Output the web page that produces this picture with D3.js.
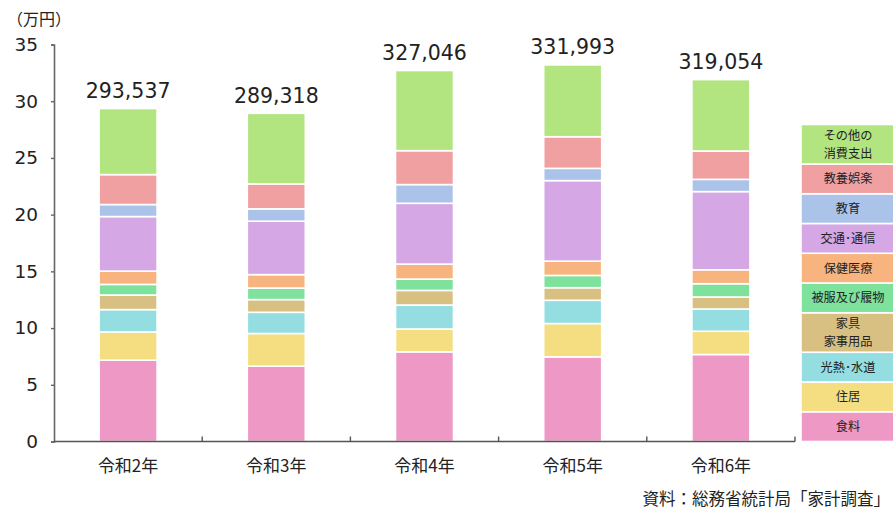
<!DOCTYPE html>
<html lang="ja">
<head>
<meta charset="utf-8">
<script src="https://cdn.jsdelivr.net/npm/d3@7"></script>
<style>
  html, body { margin: 0; padding: 0; background: #fff; }
  svg { display: block; }
</style>
</head>
<body>
<svg id="chart" width="893" height="511"></svg>
<script>
// 年次（カテゴリ）
const years = ["令和2年", "令和3年", "令和4年", "令和5年", "令和6年"];

// 1か月あたりの消費支出総額（円）
const totals = [293537, 289318, 327046, 331993, 319054];

// 費目（下から積み上げる順）
const items = ["食料", "住居", "光熱・水道", "家具・家事用品", "被服及び履物",
               "保健医療", "交通・通信", "教育", "教養娯楽", "その他の消費支出"];

// 凡例の表示文字（行ごと）
const legendLabels = [["食料"], ["住居"], ["光熱･水道"], ["家具", "家事用品"], ["被服及び履物"],
                      ["保健医療"], ["交通･通信"], ["教育"], ["教養娯楽"], ["その他の", "消費支出"]];

// 費目別の支出（万円）：年次順
const food      = [7.17, 6.64, 7.90, 7.46, 7.67];
const housing   = [2.49, 2.88, 2.02, 2.94, 2.05];
const utilities = [1.97, 1.87, 2.11, 2.05, 1.96];
const furniture = [1.28, 1.12, 1.29, 1.11, 1.06];
const clothing  = [0.94, 1.02, 1.00, 1.08, 1.17];
const medical   = [1.17, 1.18, 1.32, 1.26, 1.23];
const transport = [4.81, 4.71, 5.36, 7.10, 6.89];
const education = [1.06, 1.09, 1.65, 1.08, 1.08];
const culture   = [2.64, 2.20, 2.99, 2.79, 2.50];
const other     = [5.8237, 6.2218, 7.0646, 6.3293, 6.2954];

// y軸目盛
const yTicks = [0, 5, 10, 15, 20, 25, 30, 35];

const colors = ["#ee99c5", "#f5de82", "#94dee2", "#d8c083", "#7ee29c",
                "#f8b47e", "#d5a7e4", "#abc3e8", "#f0a0a0", "#b2e480"];

const series = [food, housing, utilities, furniture, clothing,
                medical, transport, education, culture, other];

// 積み上げ用の表
const table = years.map((yr, i) => {
  const row = { year: yr };
  items.forEach((k, j) => { row[k] = series[j][i]; });
  return row;
});
const stacked = d3.stack().keys(items)(table);

const svg = d3.select("#chart");
const jpFont = "'Noto Sans CJK JP', 'Noto Sans', sans-serif";
const numFont = "'DejaVu Sans', Verdana, sans-serif";
const ink = "#222";

const plotL = 54, plotR = 795, plotBase = 441.5, plotTop = 44.5;

const x = d3.scaleBand()
  .domain(years)
  .range([plotL, plotR])
  .paddingInner(0.6086)
  .paddingOuter(0.3043);

const y = d3.scaleLinear().domain([0, 35]).range([plotBase, plotTop]);

// 単位
svg.append("text")
  .attr("x", 7).attr("y", 25)
  .attr("font-family", jpFont).attr("font-size", 16).attr("fill", ink)
  .text("（万円）");

// y軸
const yAxis = svg.append("g")
  .attr("transform", `translate(${plotL},0)`)
  .call(d3.axisLeft(y).tickValues(yTicks).tickSize(3).tickPadding(13).tickFormat(d3.format("d")));
yAxis.select(".domain").attr("stroke", "#666").attr("stroke-width", 1.6);
yAxis.selectAll(".tick line").attr("stroke", "#666").attr("stroke-width", 1.4);
yAxis.selectAll(".tick text")
  .attr("font-family", numFont).attr("font-size", 18.5).attr("fill", ink);

// 積み上げ棒
svg.append("g")
  .selectAll("g")
  .data(stacked)
  .join("g")
  .attr("fill", (d, i) => colors[i])
  .selectAll("rect")
  .data(d => d)
  .join("rect")
  .attr("x", d => x(d.data.year))
  .attr("width", x.bandwidth())
  .attr("y", d => y(d[1]))
  .attr("height", d => y(d[0]) - y(d[1]))
  .attr("stroke", "#fff")
  .attr("stroke-width", 1.6);

// x軸
const step = x.step();
const xAxis = svg.append("g");
xAxis.append("line")
  .attr("x1", plotL).attr("x2", plotR)
  .attr("y1", plotBase).attr("y2", plotBase)
  .attr("stroke", "#555").attr("stroke-width", 1.6);
xAxis.selectAll("line.sep")
  .data(d3.range(1, years.length + 1))
  .join("line")
  .attr("class", "sep")
  .attr("x1", i => plotL + i * step).attr("x2", i => plotL + i * step)
  .attr("y1", plotBase).attr("y2", plotBase - 5)
  .attr("stroke", "#555").attr("stroke-width", 1.4);
xAxis.selectAll("text")
  .data(years)
  .join("text")
  .attr("x", d => x(d) + x.bandwidth() / 2)
  .attr("y", 472)
  .attr("text-anchor", "middle")
  .attr("font-family", jpFont).attr("font-size", 17).attr("fill", ink)
  .text(d => d);

// 総額ラベル
svg.append("g")
  .selectAll("text")
  .data(years)
  .join("text")
  .attr("x", d => x(d) + x.bandwidth() / 2)
  .attr("y", (d, i) => y(totals[i] / 10000) - 10.5)
  .attr("text-anchor", "middle")
  .attr("font-family", numFont).attr("font-size", 20.5).attr("fill", ink)
  .text((d, i) => d3.format(",")(totals[i]));

// 凡例（下から積み上げ）
const legX = 801, legW = 96;
const boxH = lines => lines.length > 1 ? 39.5 : 29.75;
let cursor = plotBase;
const legend = svg.append("g");
items.forEach((k, j) => {
  const h = boxH(legendLabels[j]);
  const y0 = cursor - h;
  legend.append("rect")
    .attr("x", legX).attr("y", y0)
    .attr("width", legW).attr("height", h)
    .attr("fill", colors[j])
    .attr("stroke", "#fff").attr("stroke-width", 1.6);
  const lines = legendLabels[j];
  const lh = 18;
  const cx = legX + 47;
  const cy = y0 + h / 2;
  lines.forEach((ln, m) => {
    legend.append("text")
      .attr("x", cx)
      .attr("y", cy + (m - (lines.length - 1) / 2) * lh)
      .attr("dy", "0.36em")
      .attr("text-anchor", "middle")
      .attr("font-family", jpFont).attr("font-size", 12.2).attr("fill", ink)
      .text(ln);
  });
  cursor = y0;
});

// 出典
svg.append("text")
  .attr("x", 890).attr("y", 505)
  .attr("text-anchor", "end")
  .attr("font-family", jpFont).attr("font-size", 16.5).attr("fill", ink)
  .text("資料：総務省統計局「家計調査」");
</script>
</body>
</html>
